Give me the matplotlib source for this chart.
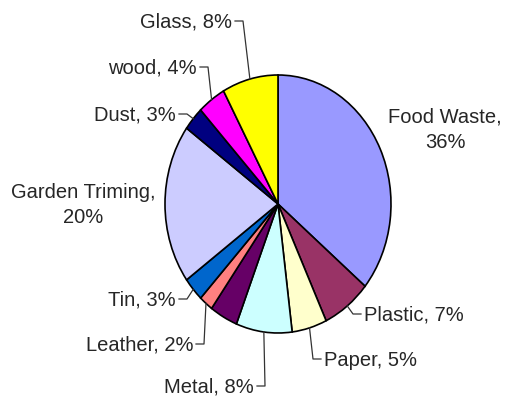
import matplotlib.pyplot as plt
from matplotlib.lines import Line2D
import numpy as np

names = ['Food Waste', 'Plastic', 'Paper', 'Metal', '', 'Leather', 'Tin',
         'Garden Triming', 'Dust', 'wood', 'Glass']
shares = [36, 7, 5, 8, 4, 2, 3, 20, 3, 4, 8]
colors = ['#9999FF', '#993366', '#FFFFCC', '#CCFFFF', '#660066', '#FF8080',
          '#0066CC', '#CCCCFF', '#000080', '#FF00FF', '#FFFF00']

W, H = 512, 401
plt.rcParams['font.family'] = ['Liberation Sans', 'DejaVu Sans']
fig = plt.figure(figsize=(W / 100, H / 100), dpi=100)

# pie box in pixels: left, top, right, bottom (drawn as an ellipse)
L, T, R, B = 165, 75, 391, 333
ax = fig.add_axes([L / W, 1 - B / H, (R - L) / W, (B - T) / H])
wedges, _ = ax.pie(shares, colors=colors, startangle=90, counterclock=False,
                   radius=1, wedgeprops=dict(edgecolor='black', linewidth=1.2))
ax.set_aspect('auto')
ax.set_xlim(-1, 1)
ax.set_ylim(-1, 1)
ax.axis('off')

txt_color = '#262626'
fs = 14.5

# label text anchor in pixels: x, y, horizontal alignment, leader line?
layout = {
    'Glass': (232, 22, 'right', True),
    'wood': (197, 68, 'right', True),
    'Dust': (176, 115, 'right', True),
    'Tin': (176, 300, 'right', True),
    'Leather': (193, 345, 'right', True),
    'Metal': (254, 387, 'right', True),
    'Paper': (324, 360, 'left', True),
    'Plastic': (364, 315, 'left', True),
    'Food Waste': (445, 130, 'center', False),
    'Garden Triming': (83, 205, 'center', False),
}

to_fig = ax.transData + fig.transFigure.inverted()

for name, val, w in zip(names, shares, wedges):
    if name not in layout:
        continue
    tx, ty, ha, leader = layout[name]
    if leader:
        label = f'{name}, {val}%'
    else:
        label = f'{name},\n{val}%'
    fig.text(tx / W, 1 - ty / H, label, ha=ha, va='center', fontsize=fs,
             color=txt_color, linespacing=1.45)
    if leader:
        mid = np.deg2rad((w.theta1 + w.theta2) / 2)
        axp = to_fig.transform((np.cos(mid), np.sin(mid)))
        sgn = 1 if ha == 'right' else -1
        x0 = (tx + sgn * 3) / W
        x1 = (tx + sgn * 11) / W
        y0 = 1 - (ty - 1) / H
        fig.add_artist(Line2D([x0, x1, axp[0]], [y0, y0, axp[1]],
                              color='#333333', linewidth=0.9,
                              transform=fig.transFigure))

fig.savefig('out.png', dpi=100)
